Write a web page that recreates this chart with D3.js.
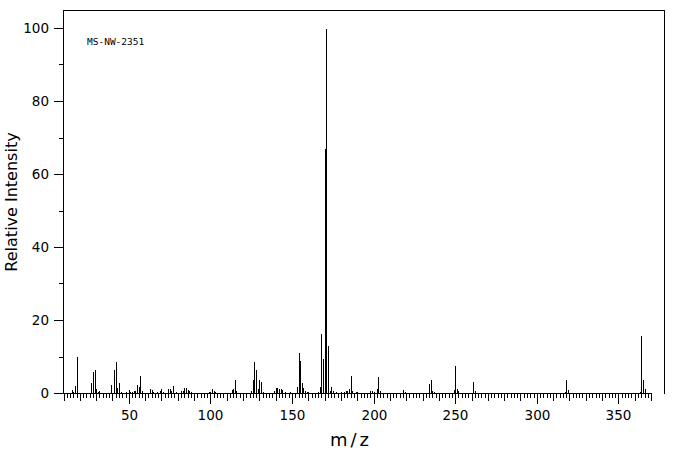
<!DOCTYPE html>
<html><head><meta charset="utf-8">
<script src="https://cdn.jsdelivr.net/npm/d3@7"></script>
<style>
html,body{margin:0;padding:0;background:#fff;}
svg text{font-family:"DejaVu Sans",sans-serif;fill:#000;}
</style></head>
<body>
<svg id="chart" width="676" height="455"></svg>
<script>
const mz = [15,16,17,18,26,27,28,29,30,31,32,34,37,38,39,40,41,42,43,44,45,46,48,50,51,52,53,54,55,56,57,58,60,62,63,64,65,66,67,68,69,70,71,73,74,75,76,77,79,80,81,82,83,84,85,86,87,88,89,90,91,94,95,96,97,98,99,100,101,102,103,105,108,109,112,113,114,115,116,117,119,122,124,125,126,127,128,129,130,131,132,134,136,138,139,140,141,142,143,144,146,147,148,149,151,152,153,154,155,156,157,158,159,160,162,163,165,166,167,168,169,170,171,172,173,174,175,177,178,179,180,182,183,184,185,186,187,189,190,191,193,195,196,198,199,200,202,203,204,206,208,210,212,213,215,216,218,219,220,222,224,226,227,229,231,233,234,235,236,237,238,239,247,248,249,250,251,252,253,254,261,262,263,285,317,318,319,363,364,365,366,367];
const intensity = [1.1,0.5,2.2,10.2,0.4,3.1,6.1,6.6,1.5,0.5,0.7,0.4,0.4,0.4,2.6,0.4,6.7,8.9,1.6,2.9,0.5,0.4,0.5,1.1,0.5,0.5,0.7,0.9,2.6,1.8,5.0,0.7,0.4,0.4,1.5,1.1,0.6,0.4,0.5,0.4,0.7,1.4,0.5,0.4,1.3,1.5,0.7,2.3,0.5,0.4,0.4,0.7,0.9,1.6,1.6,1.2,0.9,0.5,0.4,0.4,0.4,0.4,0.4,0.4,0.4,0.4,0.5,0.5,1.4,0.7,0.5,0.4,0.4,0.4,0.4,1.1,1.5,3.9,0.9,0.4,0.4,0.4,0.4,0.7,3.9,8.9,6.7,1.5,3.9,3.4,0.5,0.4,0.4,0.4,0.7,1.6,1.6,1.3,1.5,1.1,0.5,0.4,0.4,0.5,0.4,0.4,2.0,11.3,9.1,2.9,1.6,0.7,0.5,0.5,0.4,0.4,0.4,0.5,2.0,16.5,9.7,67,100,13.2,0.9,2.0,0.7,0.5,0.4,0.4,0.5,0.5,0.7,0.9,1.5,5.0,0.9,0.5,0.5,0.4,0.4,0.4,0.4,0.9,0.9,0.5,1.5,4.7,0.9,0.4,0.4,0.4,0.4,0.4,0.4,0.4,1.1,0.5,0.4,0.4,0.4,0.4,0.4,0.4,0.4,0.4,2.7,3.8,0.9,0.5,0.4,0.4,0.4,0.4,1.1,7.8,1.5,0.9,0.4,0.4,3.4,0.7,0.4,0.4,0.5,3.9,1.1,0.5,16.0,3.7,1.4,0.3];
const xTickLabels = [50,100,150,200,250,300,350];
const yTickLabels = [0,20,40,60,80,100];
const sampleId = "MS-NW-2351";
const xTitle = "m/z";
const yTitle = "Relative Intensity";

(function draw() {
const svg = d3.select("#chart");
const L = 63, R = 664, T = 10, B = 393;
const x = d3.scaleLinear().domain([10, 378]).range([63.5, 664.1]);
const y = d3.scaleLinear().domain([0, 100]).range([393, 28]);
const px = v => Math.round(x(v)) + 0.5;

const g = svg.append("g").attr("shape-rendering","crispEdges");

g.append("path")
  .attr("d", `M${L+0.5},${B+0.5}V${T+0.5}H${R+0.5}V${B+0.5}`)
  .attr("fill","none").attr("stroke","#000").attr("stroke-width",1);

const minorVals = d3.range(10, 371, 2);
const xAxis = d3.axisBottom(x).tickValues(minorVals).tickSize(4).tickFormat("").tickSizeOuter(0);
const xg = g.append("g").attr("transform",`translate(0,${B+0.5})`).call(xAxis);
xg.select(".domain").attr("d", `M${L+0.5 - 10},0H${px(370)}`);
xg.selectAll(".tick").attr("transform", d => `translate(${px(d)-0.5},0)`);
xg.selectAll(".tick line").attr("x1",0.5).attr("x2",0.5)
  .attr("y2", d => d % 50 === 0 ? 10 : (d % 10 === 0 ? 7 : 4));

const xl = g.append("g").attr("transform",`translate(0,${B})`);
xl.selectAll("text").data(xTickLabels).join("text")
  .attr("x", d => px(d)).attr("y", 27).attr("text-anchor","middle")
  .attr("font-size", 13.5).text(d => d);

const yMinor = d3.range(0, 101, 10);
const yAxis = d3.axisLeft(y).tickValues(yMinor).tickFormat("").tickSizeOuter(0).tickSize(5);
const yg = g.append("g").attr("transform",`translate(${L+0.5},0)`).call(yAxis);
yg.select(".domain").remove();
yg.selectAll(".tick").attr("transform", d => `translate(0,${Math.round(y(d))+0.5})`);
yg.selectAll(".tick line").attr("x2", d => d % 20 === 0 ? -10 : -5);
g.append("g").selectAll("text").data(yTickLabels).join("text")
  .attr("x", 49).attr("y", d => y(d) + 5).attr("text-anchor","end")
  .attr("font-size", 13.5).text(d => d);

const peaks = mz.map((m,i) => ({m, v: intensity[i]}));
g.append("g").selectAll("line").data(peaks).join("line")
  .attr("x1", d => px(d.m)).attr("x2", d => px(d.m))
  .attr("y1", B + 0.5).attr("y2", d => Math.round(y(d.v)) + 0.5)
  .attr("stroke","#000").attr("stroke-width",1);

svg.append("text").attr("x", 87).attr("y", 45)
  .style("font-family","'DejaVu Sans Mono',monospace")
  .attr("font-size", 9.5).text(sampleId);
svg.append("text").attr("x", 351).attr("y", 446).attr("text-anchor","middle")
  .attr("font-size", 18).attr("letter-spacing", 3).text(xTitle);
svg.append("text").attr("transform","translate(17,202) rotate(-90)").attr("text-anchor","middle")
  .attr("font-size", 16).text(yTitle);
})();
</script>
</body></html>
